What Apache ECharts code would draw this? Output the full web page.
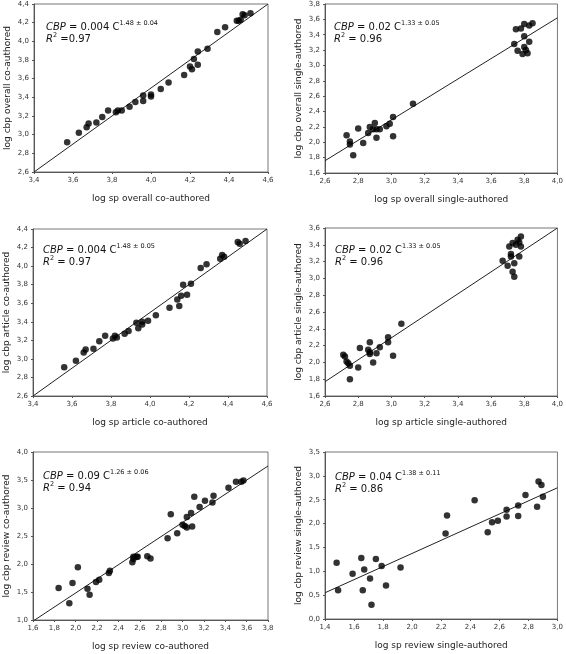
<!DOCTYPE html>
<html>
<head>
<meta charset="utf-8">
<script src="https://cdn.jsdelivr.net/npm/echarts@6/dist/echarts.min.js"></script>
<style>html,body{margin:0;padding:0;background:#fff}#c{width:566px;height:654px}</style>
</head>
<body>
<div id="c"></div>
<script>
// ---- Panel 1: overall co-authored
const p1x = [3.57,3.63,3.67,3.68,3.72,3.75,3.78,3.82,3.83,3.85,3.89,3.92,3.96,3.96,4.00,4.00,4.05,4.09,4.17,4.20,4.21,4.22,4.24,4.24,4.29,4.34,4.38,4.44,4.45,4.46,4.47,4.48,4.51];
const p1y = [2.92,3.02,3.08,3.12,3.13,3.19,3.26,3.24,3.26,3.26,3.30,3.35,3.42,3.36,3.43,3.41,3.49,3.56,3.64,3.73,3.70,3.81,3.75,3.89,3.92,4.10,4.15,4.22,4.22,4.23,4.29,4.28,4.30];
const p1fit = [[3.4,2.6],[4.6,4.4]];
// ---- Panel 2: overall single-authored
const p2x = [2.73,2.75,2.75,2.77,2.80,2.83,2.86,2.87,2.89,2.90,2.91,2.91,2.93,2.97,2.99,3.01,3.01,3.13,3.74,3.75,3.76,3.78,3.79,3.80,3.80,3.80,3.81,3.82,3.83,3.83,3.85];
const p2y = [2.09,2.01,1.97,1.83,2.18,1.99,2.12,2.20,2.17,2.25,2.06,2.17,2.17,2.21,2.24,2.33,2.08,2.50,3.28,3.47,3.19,3.48,3.15,3.54,3.38,3.24,3.20,3.16,3.31,3.52,3.55];
const p2fit = [[2.6,1.76],[4.0,3.62]];
// ---- Panel 3: article co-authored
const p3x = [3.56,3.62,3.66,3.67,3.71,3.74,3.77,3.81,3.82,3.83,3.87,3.89,3.93,3.94,3.96,3.96,3.99,4.03,4.10,4.14,4.15,4.16,4.17,4.19,4.21,4.26,4.29,4.36,4.37,4.38,4.45,4.46,4.49];
const p3y = [2.91,2.98,3.07,3.10,3.11,3.19,3.25,3.22,3.25,3.23,3.27,3.30,3.39,3.33,3.37,3.40,3.41,3.47,3.55,3.64,3.57,3.68,3.80,3.69,3.81,3.98,4.02,4.08,4.12,4.10,4.26,4.24,4.27];
const p3fit = [[3.4,2.6],[4.6,4.4]];
// ---- Panel 4: article single-authored
const p4x = [2.71,2.72,2.73,2.74,2.75,2.75,2.80,2.81,2.86,2.87,2.87,2.87,2.89,2.91,2.93,2.98,2.98,3.01,3.06,3.67,3.70,3.71,3.72,3.72,3.73,3.73,3.74,3.74,3.75,3.76,3.77,3.77,3.78,3.78];
const p4y = [2.09,2.07,2.01,1.99,1.96,1.80,1.94,2.17,2.15,2.24,2.12,2.10,2.00,2.11,2.18,2.30,2.24,2.08,2.46,3.21,3.15,3.38,3.29,3.26,3.42,3.08,3.18,3.02,3.40,3.46,3.43,3.26,3.50,3.38];
const p4fit = [[2.6,1.77],[4.0,3.60]];
// ---- Panel 5: review co-authored
const p5x = [1.84,1.94,1.97,2.02,2.11,2.13,2.19,2.22,2.31,2.32,2.53,2.54,2.54,2.57,2.58,2.67,2.70,2.86,2.89,2.95,3.00,3.02,3.04,3.04,3.08,3.09,3.11,3.16,3.21,3.28,3.29,3.43,3.50,3.55,3.57];
const p5y = [1.57,1.30,1.66,1.94,1.56,1.45,1.68,1.72,1.84,1.88,2.03,2.09,2.13,2.13,2.13,2.14,2.10,2.46,2.89,2.55,2.70,2.68,2.84,2.65,2.91,2.67,3.20,3.02,3.13,3.10,3.22,3.36,3.47,3.47,3.49];
const p5fit = [[1.6,0.98],[3.8,3.75]];
// ---- Panel 6: review single-authored
const p6x = [1.48,1.49,1.59,1.65,1.66,1.67,1.71,1.72,1.75,1.79,1.82,1.92,2.23,2.24,2.43,2.52,2.55,2.59,2.65,2.65,2.73,2.73,2.78,2.86,2.87,2.89,2.90];
const p6y = [1.18,0.60,0.95,1.28,0.60,1.04,0.85,0.30,1.26,1.11,0.70,1.08,1.79,2.17,2.49,1.82,2.03,2.06,2.29,2.15,2.38,2.16,2.60,2.35,2.88,2.81,2.56];
const p6fit = [[1.4,0.55],[3.0,2.75]];

// axis ranges [min, max, interval]
const xRanges = [[3.4,4.6,0.2],[2.6,4.0,0.2],[3.4,4.6,0.2],[2.6,4.0,0.2],[1.6,3.8,0.2],[1.4,3.0,0.2]];
const yRanges = [[2.6,4.4,0.2],[1.6,3.8,0.2],[2.6,4.4,0.2],[1.6,3.6,0.2],[1.0,4.0,0.5],[0.0,3.5,0.5]];
const xNames = ['log sp overall co-authored','log sp overall single-authored','log sp article co-authored','log sp article single-authored','log sp review co-authored','log sp review single-authored'];
const yNames = ['log cbp overall co-authored','log cbp overall single-authored','log cbp article co-authored','log cbp article single-authored','log cbp review co-authored','log cbp review single-authored'];
const coefs = ['0.004','0.02','0.004','0.02','0.09','0.04'];
const exps = ['1.48 ± 0.04','1.33 ± 0.05','1.48 ± 0.05','1.33 ± 0.05','1.26 ± 0.06','1.38 ± 0.11'];
const r2s = ['=0.97','= 0.96','= 0.97','= 0.96','= 0.94','= 0.86'];

const xs = [p1x,p2x,p3x,p4x,p5x,p6x];
const ys = [p1y,p2y,p3y,p4y,p5y,p6y];
const fits = [p1fit,p2fit,p3fit,p4fit,p5fit,p6fit];

// layout
const grids = [
  {left:34, top:4, width:234, height:168},
  {left:325, top:4, width:233, height:169},
  {left:33, top:229, width:234, height:167},
  {left:325, top:228, width:233, height:168},
  {left:33, top:452, width:235, height:168},
  {left:325, top:452, width:233, height:167}
];
const annPos = [[46,20],[334,20],[43,243],[335,243],[43,469],[335,470]];

const FONT = 'DejaVu Sans';
const fmt = v => (Math.round(v*10)/10).toFixed(1).replace('.', ',');

const option = {
  animation: false,
  backgroundColor: '#fff',
  grid: grids.map(g => Object.assign({show:true, borderColor:'#777', borderWidth:1, backgroundColor:'transparent'}, g)),
  xAxis: xRanges.map((r,i) => ({
    type:'value', gridIndex:i, min:r[0], max:r[1], interval:r[2],
    name:xNames[i], nameLocation:'middle', nameGap:22,
    nameTextStyle:{fontFamily:FONT, fontSize:9, color:'#222'},
    axisLine:{show:true, onZero:false, lineStyle:{color:'#555', width:1}},
    axisTick:{show:true, length:2, lineStyle:{color:'#555'}},
    axisLabel:{fontFamily:FONT, fontSize:7, color:'#333', margin:5, formatter:fmt},
    splitLine:{show:false}
  })),
  yAxis: yRanges.map((r,i) => ({
    type:'value', gridIndex:i, min:r[0], max:r[1], interval:r[2],
    name:yNames[i], nameLocation:'middle', nameGap:22,
    nameTextStyle:{fontFamily:FONT, fontSize:9, color:'#222'},
    axisLine:{show:true, onZero:false, lineStyle:{color:'#555', width:1}},
    axisTick:{show:true, length:2, lineStyle:{color:'#555'}},
    axisLabel:{fontFamily:FONT, fontSize:7, color:'#333', margin:5, formatter:fmt},
    splitLine:{show:false}
  })),
  series: [],
  graphic: []
};

for (let i = 0; i < 6; i++) {
  option.series.push({
    type:'line', xAxisIndex:i, yAxisIndex:i, data:fits[i], symbol:'none',
    lineStyle:{color:'#222', width:1}, silent:true, z:1
  });
  option.series.push({
    type:'scatter', xAxisIndex:i, yAxisIndex:i,
    data:xs[i].map((x,k) => [x, ys[i][k]]),
    symbol:'circle', symbolSize:6.5, itemStyle:{color:'#000'}, z:2
  });
  option.graphic.push({
    type:'text', left:annPos[i][0], top:annPos[i][1], z:10,
    style:{
      text:'{i|CBP}{n| = ' + coefs[i] + ' C}{s|' + exps[i] + '}\n{i|R}{s|2}{n| ' + r2s[i] + '}',
      fill:'#111', fontFamily:FONT, fontSize:10,
      rich:{
        i:{fontFamily:FONT, fontSize:10, fontStyle:'italic', fill:'#111', lineHeight:12, verticalAlign:'bottom'},
        n:{fontFamily:FONT, fontSize:10, fill:'#111', lineHeight:12, verticalAlign:'bottom'},
        s:{fontFamily:FONT, fontSize:6.5, fill:'#111', lineHeight:12, verticalAlign:'top'}
      }
    }
  });
}

const chart = echarts.init(document.getElementById('c'), null, {renderer:'canvas'});
chart.setOption(option);
</script>
</body>
</html>
